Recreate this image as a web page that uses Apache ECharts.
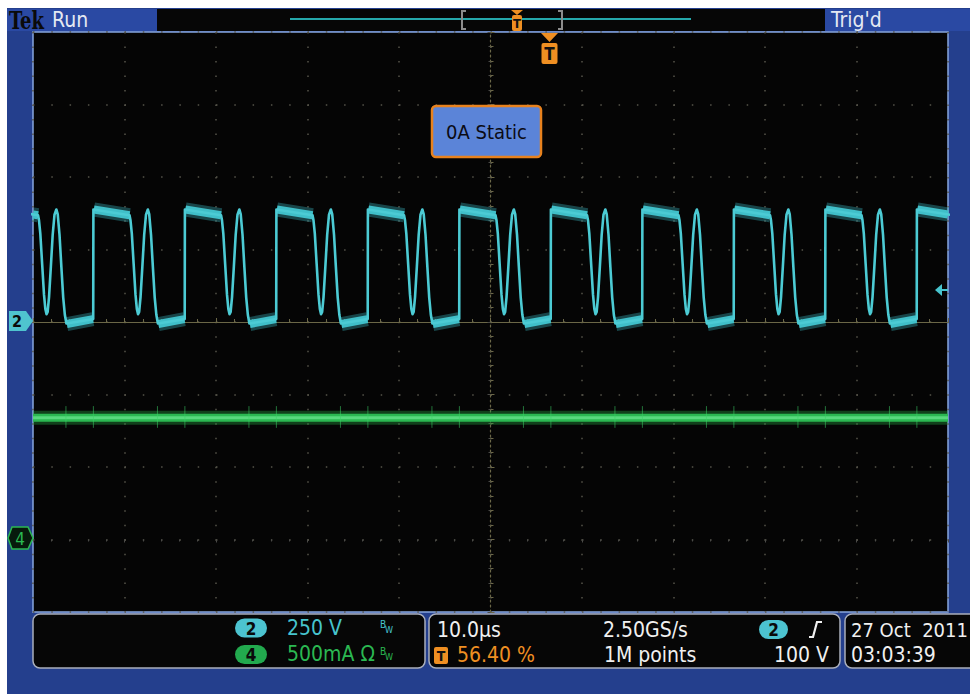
<!DOCTYPE html>
<html><head><meta charset="utf-8">
<script src="https://cdn.jsdelivr.net/npm/echarts@6/dist/echarts.min.js"></script>
<style>html,body{margin:0;padding:0;background:#fff;overflow:hidden}#c{width:970px;height:694px}</style>
</head><body><div id="c"></div>
<script>
// ---------- values ----------
const timeRangeUs = [-50, 50];          // 10 div x 10.0 µs/div
const ch2RangeV = [-1000, 1000];        // 8 div x 250 V/div, ground at centre
const ch4RangeA = [-0.5, 3.5];          // 8 div x 500 mA/div, ground 3 div below centre
// rising edges of the CH2 switching waveform (µs)
const ch2RiseEdgesUs = [-53.4, -43.4, -33.4, -23.4, -13.4, -3.4, 6.6, 16.6, 26.6, 36.6, 46.6];
// one switching cycle of CH2, time after rising edge (µs) and volts
const ch2CycleOffsetUs = [0.0, 3.95, 4.05, 4.2, 4.4, 4.6, 4.75, 4.88, 5.0, 5.15, 5.35, 5.55, 5.75, 5.95, 6.1, 6.3, 6.5, 6.7, 6.88, 7.05, 9.98];
const ch2CycleVolts    = [388, 368, 352, 305, 200, 95, 45, 27, 35, 85, 190, 300, 370, 388, 372, 300, 190, 85, 25, -5, 10];
// thick noisy plateaus (start/end offsets in µs, start/end volts)
const ch2HighPlateauUs = [0.05, 3.95];
const ch2HighPlateauV = [388, 368];
const ch2LowPlateauUs = [7.1, 9.95];
const ch2LowPlateauV = [-7, 10];
// CH4 current trace
const ch4TimeUs = [-50, 50];
const ch4Amps = [0.84, 0.84];
const ch4SpikeUs = [-46.4, -43.4, -36.4, -33.4, -26.4, -23.4, -16.4, -13.4, -6.4, -3.4, 3.6, 6.6, 13.6, 16.6, 23.6, 26.6, 33.6, 36.6, 43.6, 46.6];
const ch4SpikeRangeA = [0.77, 0.92];
// readout texts
const headerTexts = ['Tek', 'Run', "Trig'd"];
const noteText = '0A Static';
const ch2Readout = ['2', '250 V'];
const ch4Readout = ['4', '500mA Ω'];
const timebaseTexts = ['10.0µs', '2.50GS/s', '1M points'];
const triggerTexts = ['56.40 %', '2', '100 V'];
const dateTexts = ['27 Oct  2011', '03:03:39'];

// ---------- build series data ----------
const ch2Trace = [];
ch2RiseEdgesUs.forEach(e => ch2CycleOffsetUs.forEach((o, i) => ch2Trace.push([e + o, ch2CycleVolts[i]])));
// keep thick plateau segments inside the time window (clip by linear interpolation)
function clipSeg(t0, v0, t1, v1) {
  const lo = timeRangeUs[0], hi = timeRangeUs[1];
  if (t1 <= lo || t0 >= hi) return null;
  const f = t => v0 + (v1 - v0) * (t - t0) / (t1 - t0);
  const a = Math.max(t0, lo), b = Math.min(t1, hi);
  return [[a, f(a)], [b, f(b)], [b + 0.001, '-']];
}
const ch2Bands = [];
ch2RiseEdgesUs.forEach(e => {
  const s1 = clipSeg(e + ch2HighPlateauUs[0], ch2HighPlateauV[0], e + ch2HighPlateauUs[1], ch2HighPlateauV[1]);
  const s2 = clipSeg(e + ch2LowPlateauUs[0], ch2LowPlateauV[0], e + ch2LowPlateauUs[1], ch2LowPlateauV[1]);
  if (s1) ch2Bands.push(...s1);
  if (s2) ch2Bands.push(...s2);
});
const ch4Trace = ch4TimeUs.map((t, i) => [t, ch4Amps[i]]);
const ch4Spikes = [];
ch4SpikeUs.forEach(t => ch4Spikes.push([t, ch4SpikeRangeA[0]], [t, ch4SpikeRangeA[1]], [t + 0.001, '-']));

// ---------- styles ----------
const FONT = '"DejaVu Sans Condensed","DejaVu Sans",sans-serif';
const TEAL = '#47c4ce', GREEN = '#2bb852', ORANGE = '#ef8f22', WHITE = '#f0f0f0';
const OLIVE = '#6b6747', DOTS = '#55544a';
const FRAME = '#243f8d', HEADBLUE = '#2a49a3', BOXBORDER = '#a9aebb';

function txt(x, y, text, fill, size, o = {}) {
  const el = { type: 'text', x, y, z: 100, silent: true,
    style: { text, fill, font: (o.weight || 'normal') + ' ' + size + 'px ' + (o.font || FONT),
      align: o.align || 'left', verticalAlign: 'middle' } };
  if (o.scaleX) el.scaleX = o.scaleX;
  return el;
}
function rect(x, y, w, h, fill, o = {}) {
  return { type: 'rect', z: o.z != null ? o.z : 90, silent: true, shape: { x, y, width: w, height: h, r: o.r || 0 },
    style: { fill, stroke: o.stroke || null, lineWidth: o.lw || 0 } };
}
function poly(points, fill, o = {}) {
  return { type: 'polygon', z: 95, silent: true, shape: { points }, style: { fill, stroke: o.stroke || null, lineWidth: o.lw || 0 } };
}
function pline(points, stroke, lw) {
  return { type: 'polyline', z: 95, silent: true, shape: { points }, style: { fill: null, stroke, lineWidth: lw } };
}
function tIcon(cx, top, w, h, size) {
  return [rect(cx - w / 2, top, w, h, ORANGE, { r: 2, z: 96 }), txt(cx, top + h / 2 + 0.5, 'T', '#111', size, { weight: 'bold', align: 'center' })];
}

const graphics = [
  // frame and header
  rect(7, 8, 963, 686, FRAME, { z: -10 }),
  rect(7, 9, 150, 22, HEADBLUE, { z: 90 }),
  rect(157, 9, 668, 22, '#060606', { z: 90 }),
  rect(825, 9, 145, 22, HEADBLUE, { z: 90 }),
  txt(9, 20, headerTexts[0], '#0a0a0a', 25, { weight: 'bold', font: '"DejaVu Serif Condensed","DejaVu Serif",serif', scaleX: 0.8 }),
  txt(52, 20, headerTexts[1], '#e4e8f2', 21),
  txt(831, 20, headerTexts[2], '#e4e8f2', 21),
  // record timeline
  pline([[290, 19], [691, 19]], '#25a8ab', 2),
  pline([[466, 11], [462, 11], [462, 29], [466, 29]], '#8c8c8c', 2),
  pline([[558, 11], [562, 11], [562, 29], [558, 29]], '#8c8c8c', 2),
  poly([[511, 10], [523, 10], [517, 15]], ORANGE),
  ...tIcon(517, 15, 10, 16, 13),
  // trigger position marker
  poly([[541, 33], [558, 33], [549.5, 42]], ORANGE),
  ...tIcon(549.5, 43, 16, 21, 17),
  // annotation box
  rect(432, 106, 109, 51, '#5b84d8', { r: 4, stroke: '#e8821e', lw: 2.5, z: 96 }),
  txt(486.5, 131.5, noteText, '#0b0b14', 20, { align: 'center' }),
  // channel ground markers
  poly([[9, 311], [26, 311], [33, 321], [26, 331], [9, 331]], '#4fc4cf'),
  txt(17, 321, ch2Readout[0], '#0a0a0a', 16, { weight: 'bold', align: 'center' }),
  poly([[12, 527], [28, 527], [33, 538], [28, 549], [12, 549], [8, 538]], '#071a0c', { stroke: GREEN, lw: 1.5 }),
  txt(20, 538.5, ch4Readout[0], GREEN, 17, { align: 'center' }),
  // trigger level arrow
  poly([[935, 290], [942, 284], [942, 296]], TEAL),
  pline([[941, 290], [948, 290]], TEAL, 2),
  // bottom readout boxes
  rect(33, 614, 392, 54, '#060606', { r: 7, stroke: BOXBORDER, lw: 1.5 }),
  rect(429, 614, 411, 54, '#060606', { r: 7, stroke: BOXBORDER, lw: 1.5 }),
  rect(845, 614, 140, 54, '#060606', { r: 7, stroke: BOXBORDER, lw: 1.5 }),
  rect(235, 618.5, 32, 19, '#4cc3d0', { r: 9.5, z: 96 }),
  txt(251, 628.5, ch2Readout[0], '#0a0a0a', 17, { weight: 'bold', align: 'center' }),
  txt(287, 628, ch2Readout[1], TEAL, 21),
  txt(380, 624.5, 'B', TEAL, 10), txt(385, 629.5, 'W', TEAL, 9),
  rect(235, 645, 32, 19, '#22a94e', { r: 9.5, z: 96 }),
  txt(251, 655, ch4Readout[0], '#0a0a0a', 17, { weight: 'bold', align: 'center' }),
  txt(287, 654, ch4Readout[1], GREEN, 21),
  txt(380, 651.5, 'B', GREEN, 10), txt(385, 656.5, 'W', GREEN, 9),
  txt(437, 629.5, timebaseTexts[0], WHITE, 21),
  txt(603, 629.5, timebaseTexts[1], WHITE, 21),
  rect(759, 620, 29, 19, '#4cc3d0', { r: 9.5, z: 96 }),
  txt(773.5, 629.5, triggerTexts[1], '#0a0a0a', 17, { weight: 'bold', align: 'center' }),
  pline([[809, 637], [813, 637], [817, 622], [822, 622]], WHITE, 2.2),
  ...tIcon(441, 647, 14, 17, 14),
  txt(457, 655, triggerTexts[0], ORANGE, 21),
  txt(604, 655, timebaseTexts[2], WHITE, 21),
  txt(829, 655, triggerTexts[2], WHITE, 21, { align: 'right' }),
  txt(851, 629.5, dateTexts[0], WHITE, 20),
  txt(851, 655, dateTexts[1], WHITE, 21)
];

function lineSeries(name, data, yIdx, color, width, z) {
  return { name, type: 'line', xAxisIndex: 0, yAxisIndex: yIdx, data, showSymbol: false, symbol: 'none',
    silent: true, animation: false, z, connectNulls: false, clip: true,
    lineStyle: { color, width, cap: 'butt', join: 'round' } };
}

const chart = echarts.init(document.getElementById('c'), null, { renderer: 'svg', width: 970, height: 694 });
chart.setOption({
  backgroundColor: '#ffffff',
  animation: false,
  grid: { left: 33, top: 32, right: 22, bottom: 82, show: true, backgroundColor: '#050505', borderColor: '#86a6de', borderWidth: 1.5 },
  xAxis: [
    { type: 'value', min: timeRangeUs[0], max: timeRangeUs[1], interval: 10, position: 'bottom',
      axisLine: { show: true, onZero: true, lineStyle: { color: OLIVE, width: 1.2 } },
      axisTick: { show: true, inside: true, length: 4, lineStyle: { color: OLIVE } },
      minorTick: { show: true, splitNumber: 5, length: 3, lineStyle: { color: OLIVE } },
      axisLabel: { show: false },
      splitLine: { show: true, lineStyle: { color: DOTS, width: 1.5, type: [1.5, 12.99] } } },
    { type: 'value', min: timeRangeUs[0], max: timeRangeUs[1], interval: 10, position: 'top',
      axisLine: { show: false },
      axisTick: { show: true, inside: true, length: 3, lineStyle: { color: '#4a4a48' } },
      minorTick: { show: true, splitNumber: 5, length: 2, lineStyle: { color: '#4a4a48' } },
      axisLabel: { show: false }, splitLine: { show: false } }
  ],
  yAxis: [
    { type: 'value', min: ch2RangeV[0], max: ch2RangeV[1], interval: 250,
      axisLine: { show: true, onZero: true, lineStyle: { color: OLIVE, width: 1.2, type: [2, 3] } },
      axisTick: { show: true, inside: true, length: 4, lineStyle: { color: OLIVE } },
      minorTick: { show: true, splitNumber: 5, length: 3, lineStyle: { color: OLIVE } },
      axisLabel: { show: false },
      splitLine: { show: true, lineStyle: { color: DOTS, width: 1.5, type: [1.5, 16.8] } } },
    { type: 'value', min: ch4RangeA[0], max: ch4RangeA[1], interval: 0.5, position: 'right',
      axisLine: { show: false },
      axisTick: { show: true, inside: true, length: 3, lineStyle: { color: '#4a4a48' } },
      minorTick: { show: true, splitNumber: 5, length: 2, lineStyle: { color: '#4a4a48' } },
      axisLabel: { show: false }, splitLine: { show: false } }
  ],
  series: [
    lineSeries('ch4 glow', ch4Trace, 1, 'rgba(40,175,70,0.35)', 14, 2),
    lineSeries('ch4 band', ch4Trace, 1, GREEN, 8, 3),
    lineSeries('ch4 core', ch4Trace, 1, '#58d97e', 3, 4),
    lineSeries('ch4 spikes', ch4Spikes, 1, 'rgba(60,207,102,0.55)', 1, 4),
    lineSeries('ch2 glow', ch2Bands, 0, 'rgba(60,190,200,0.35)', 14, 5),
    lineSeries('ch2 band', ch2Bands, 0, '#40bfc9', 8, 6),
    lineSeries('ch2 trace', ch2Trace, 0, '#4ccbd4', 2.6, 7)
  ],
  graphic: { elements: graphics }
});
</script></body></html>
